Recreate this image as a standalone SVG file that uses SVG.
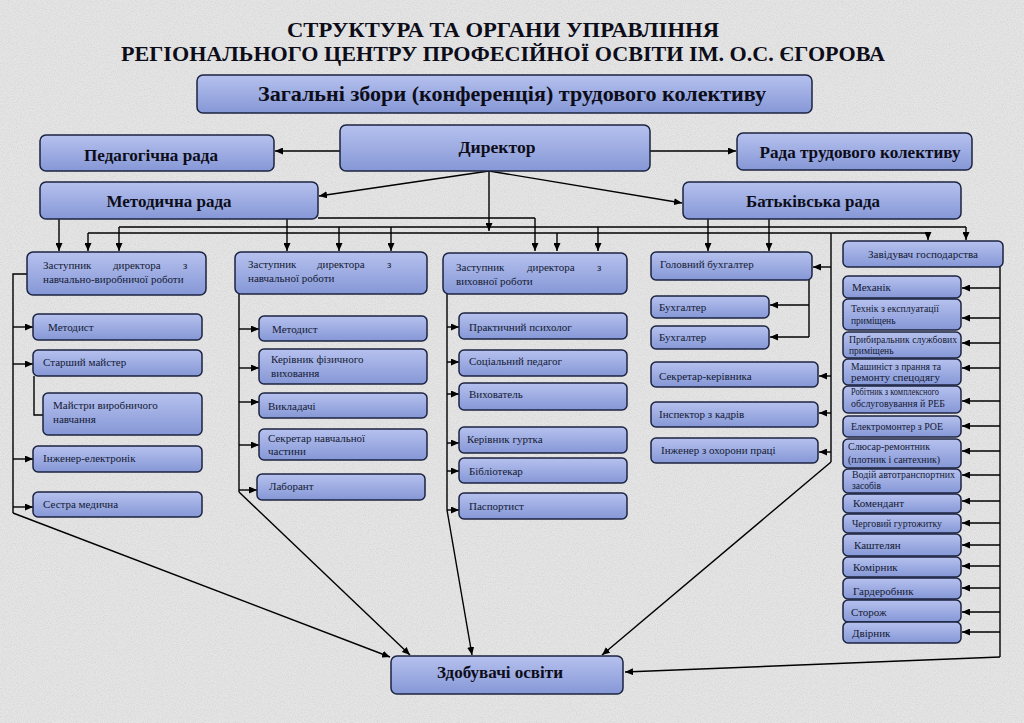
<svg xmlns="http://www.w3.org/2000/svg" width="1024" height="723" viewBox="0 0 1024 723">
<defs>
<linearGradient id="g" x1="0" y1="0" x2="0" y2="1">
<stop offset="0" stop-color="#b6c1ee"/>
<stop offset="1" stop-color="#8597d6"/>
</linearGradient>
<filter id="grain" x="0" y="0" width="100%" height="100%">
<feTurbulence type="fractalNoise" baseFrequency="0.85" numOctaves="2" seed="7" result="n"/>
<feColorMatrix in="n" type="matrix" values="0 0 0 0 0.45  0 0 0 0 0.45  0 0 0 0 0.45  1.2 0 0 0 -0.45"/>
</filter>
<marker id="ah" viewBox="0 0 8 7" refX="8" refY="3.5" markerWidth="8" markerHeight="7" markerUnits="userSpaceOnUse" orient="auto">
<path d="M0,0 L8,3.5 L0,7 z" fill="#000"/>
</marker>
<style>
.box{fill:url(#g);stroke:#1c2340;stroke-width:1.5}
.b{font-family:"Liberation Serif","Times New Roman",serif;font-weight:bold;fill:#0d0d1a}
.t{font-family:"Liberation Serif","Times New Roman",serif;font-size:11px;fill:#141a33}
.s{font-family:"Liberation Serif","Times New Roman",serif;font-size:9.5px;fill:#141a33}
.c{fill:none;stroke:#000;stroke-width:1.4}
.a{fill:none;stroke:#000;stroke-width:1.4;marker-end:url(#ah)}
</style>
</defs>
<rect width="1024" height="723" fill="#e5e5e5"/>
<rect width="1024" height="723" filter="url(#grain)" opacity="0.5"/>

<g id="title">
<text class="b" x="503" y="37" font-size="20" text-anchor="middle" textLength="432" lengthAdjust="spacingAndGlyphs">СТРУКТУРА ТА ОРГАНИ УПРАВЛІННЯ</text>
<text class="b" x="503" y="61" font-size="20" text-anchor="middle" textLength="764" lengthAdjust="spacingAndGlyphs">РЕГІОНАЛЬНОГО ЦЕНТРУ ПРОФЕСІЙНОЇ ОСВІТИ ІМ. О.С. ЄГОРОВА</text>
</g>

<g id="connectors">
<path class="a" d="M340,151 H275"/>
<path class="a" d="M650,151 H736"/>
<path class="a" d="M489,171 L319,196"/>
<path class="a" d="M489,171 L682,203"/>
<path class="a" d="M489,171 V231"/>
<path class="c" d="M318,218 H535"/>
<path class="a" d="M535,218 V251"/>
<path class="a" d="M59,219 V251"/>
<path class="a" d="M287,219 V251"/>
<path class="c" d="M119,227 H966"/>
<path class="c" d="M88,233 H928"/>
<path class="a" d="M119,227 V251"/>
<path class="a" d="M88,233 V251"/>
<path class="a" d="M339,227 V251"/>
<path class="a" d="M391,227 V251"/>
<path class="a" d="M557,233 V251"/>
<path class="a" d="M598,227 V251"/>
<path class="a" d="M708,219 V251"/>
<path class="a" d="M769,219 V251"/>
<path class="a" d="M928,233 V240"/>
<path class="a" d="M966,227 V240"/>
<path class="c" d="M27,274 H13 V513"/>
<path class="a" d="M13,327 H33"/>
<path class="a" d="M13,364 H33"/>
<path class="a" d="M13,459 H33"/>
<path class="a" d="M13,507 H33"/>
<path class="c" d="M34,376 V415 H43"/>
<path class="a" d="M13,513 L390,657"/>
<path class="c" d="M239,294 V492"/>
<path class="a" d="M239,329 H259"/>
<path class="a" d="M239,368 H259"/>
<path class="a" d="M239,402 H259"/>
<path class="a" d="M239,445 H259"/>
<path class="a" d="M239,490 H257"/>
<path class="a" d="M239,492 L410,655"/>
<path class="c" d="M447,294 V510"/>
<path class="a" d="M447,327 H459"/>
<path class="a" d="M447,362 H459"/>
<path class="a" d="M447,394 H459"/>
<path class="a" d="M447,443 H459"/>
<path class="a" d="M447,471 H459"/>
<path class="a" d="M447,510 H459"/>
<path class="a" d="M447,510 L472,655"/>
<path class="c" d="M831,233 V462"/>
<path class="a" d="M831,267 H813"/>
<path class="a" d="M831,376 H819"/>
<path class="a" d="M831,413 H819"/>
<path class="a" d="M831,452 H819"/>
<path class="c" d="M809,280 V337"/>
<path class="a" d="M809,305 H770"/>
<path class="a" d="M809,337 H770"/>
<path class="a" d="M831,462 L602,655"/>
<path class="c" d="M1000,267 V657"/>
<path class="a" d="M1000,288 H962"/>
<path class="a" d="M1000,318 H962"/>
<path class="a" d="M1000,343 H962"/>
<path class="a" d="M1000,368 H962"/>
<path class="a" d="M1000,401 H962"/>
<path class="a" d="M1000,426 H962"/>
<path class="a" d="M1000,451 H962"/>
<path class="a" d="M1000,475 H962"/>
<path class="a" d="M1000,501 H962"/>
<path class="a" d="M1000,523 H962"/>
<path class="a" d="M1000,545 H962"/>
<path class="a" d="M1000,566 H962"/>
<path class="a" d="M1000,588 H962"/>
<path class="a" d="M1000,612 H962"/>
<path class="a" d="M1000,632 H962"/>
<path class="a" d="M1000,657 L625,672"/>
</g>

<g id="n-zbory"><rect class="box" x="197" y="75" width="615" height="38" rx="6"/><text class="b" x="512" y="101" font-size="21" text-anchor="middle" textLength="508" lengthAdjust="spacingAndGlyphs">Загальні збори (конференція) трудового колективу</text></g>
<g id="n-dyrektor"><rect class="box" x="340" y="125" width="310" height="46" rx="6"/><text class="b" x="497" y="153" font-size="16" text-anchor="middle" textLength="77" lengthAdjust="spacingAndGlyphs">Директор</text></g>
<g id="n-ped"><rect class="box" x="40" y="135" width="234" height="36" rx="6"/><text class="b" x="151" y="161" font-size="16" text-anchor="middle" textLength="134" lengthAdjust="spacingAndGlyphs">Педагогічна рада</text></g>
<g id="n-rada"><rect class="box" x="737" y="133" width="235" height="37" rx="6"/><text class="b" x="860" y="158" font-size="16" text-anchor="middle" textLength="201" lengthAdjust="spacingAndGlyphs">Рада трудового колективу</text></g>
<g id="n-metod"><rect class="box" x="40" y="182" width="278" height="37" rx="6"/><text class="b" x="169" y="207" font-size="17" text-anchor="middle" textLength="125" lengthAdjust="spacingAndGlyphs">Методична рада</text></g>
<g id="n-batk"><rect class="box" x="683" y="182" width="278" height="37" rx="6"/><text class="b" x="813" y="207" font-size="17" text-anchor="middle" textLength="134" lengthAdjust="spacingAndGlyphs">Батьківська рада</text></g>
<g id="n-zdob"><rect class="box" x="391" y="656" width="232" height="38" rx="6"/><text class="b" x="500" y="678" font-size="17" text-anchor="middle" textLength="126" lengthAdjust="spacingAndGlyphs">Здобувачі освіти</text></g>

<g id="n-z1"><rect class="box" x="27" y="252" width="179" height="43" rx="6"/><text class="t" x="43" y="269" font-size="11.5">Заступник</text><text class="t" x="113" y="269" font-size="11.5">директора</text><text class="t" x="183" y="269" font-size="11.5">з</text><text class="t" x="43" y="283" font-size="11.5">навчально-виробничої  роботи</text></g>
<g id="n-c1-1"><rect class="box" x="33" y="314" width="169" height="26" rx="5"/><text class="t" x="48" y="331">Методист</text></g>
<g id="n-c1-2"><rect class="box" x="33" y="350" width="169" height="26" rx="5"/><text class="t" x="43" y="366">Старший майстер</text></g>
<g id="n-c1-3"><rect class="box" x="43" y="393" width="159" height="42" rx="5"/><text class="t" x="53" y="409">Майстри виробничого</text><text class="t" x="53" y="423">навчання</text></g>
<g id="n-c1-4"><rect class="box" x="33" y="446" width="169" height="26" rx="5"/><text class="t" x="43" y="462">Інженер-електронік</text></g>
<g id="n-c1-5"><rect class="box" x="33" y="492" width="169" height="25" rx="5"/><text class="t" x="43" y="508">Сестра медична</text></g>

<g id="n-z2"><rect class="box" x="235" y="252" width="192" height="42" rx="6"/><text class="t" x="248" y="268" font-size="11.5">Заступник</text><text class="t" x="317" y="268" font-size="11.5">директора</text><text class="t" x="387" y="268" font-size="11.5">з</text><text class="t" x="248" y="282" font-size="11.5">навчальної роботи</text></g>
<g id="n-c2-1"><rect class="box" x="259" y="316" width="168" height="25" rx="5"/><text class="t" x="272" y="333">Методист</text></g>
<g id="n-c2-2"><rect class="box" x="259" y="349" width="168" height="35" rx="5"/><text class="t" x="271" y="363">Керівник фізичного</text><text class="t" x="271" y="377">виховання</text></g>
<g id="n-c2-3"><rect class="box" x="259" y="393" width="168" height="25" rx="5"/><text class="t" x="268" y="410">Викладачі</text></g>
<g id="n-c2-4"><rect class="box" x="259" y="429" width="168" height="31" rx="5"/><text class="t" x="268" y="442">Секретар навчальної</text><text class="t" x="268" y="455">частини</text></g>
<g id="n-c2-5"><rect class="box" x="257" y="474" width="168" height="26" rx="5"/><text class="t" x="269" y="490">Лаборант</text></g>

<g id="n-z3"><rect class="box" x="443" y="253" width="184" height="41" rx="6"/><text class="t" x="456" y="271" font-size="11.5">Заступник</text><text class="t" x="527" y="271" font-size="11.5">директора</text><text class="t" x="597" y="271" font-size="11.5">з</text><text class="t" x="456" y="285" font-size="11.5">виховної роботи</text></g>
<g id="n-c3-1"><rect class="box" x="459" y="313" width="168" height="26" rx="5"/><text class="t" x="469" y="331">Практичний психолог</text></g>
<g id="n-c3-2"><rect class="box" x="459" y="350" width="168" height="26" rx="5"/><text class="t" x="469" y="365">Соціальний педагог</text></g>
<g id="n-c3-3"><rect class="box" x="459" y="383" width="168" height="27" rx="5"/><text class="t" x="469" y="398">Вихователь</text></g>
<g id="n-c3-4"><rect class="box" x="459" y="427" width="168" height="26" rx="5"/><text class="t" x="467" y="443">Керівник гуртка</text></g>
<g id="n-c3-5"><rect class="box" x="459" y="458" width="168" height="25" rx="5"/><text class="t" x="469" y="475">Бібліотекар</text></g>
<g id="n-c3-6"><rect class="box" x="459" y="493" width="168" height="26" rx="5"/><text class="t" x="469" y="510">Паспортист</text></g>

<g id="n-gb"><rect class="box" x="651" y="252" width="161" height="28" rx="5"/><text class="t" x="660" y="268" font-size="12">Головний бухгалтер</text></g>
<g id="n-b1"><rect class="box" x="651" y="296" width="118" height="22" rx="5"/><text class="t" x="659" y="311" font-size="10.5">Бухгалтер</text></g>
<g id="n-b2"><rect class="box" x="651" y="326" width="118" height="23" rx="5"/><text class="t" x="659" y="341" font-size="10.5">Бухгалтер</text></g>
<g id="n-sk"><rect class="box" x="651" y="362" width="167" height="25" rx="5"/><text class="t" x="659" y="380" font-size="10.5">Секретар-керівника</text></g>
<g id="n-ik"><rect class="box" x="651" y="402" width="167" height="25" rx="5"/><text class="t" x="659" y="418" font-size="10.5">Інспектор з кадрів</text></g>
<g id="n-io"><rect class="box" x="651" y="438" width="167" height="25" rx="5"/><text class="t" x="661" y="454" font-size="10.5">Інженер з охорони праці</text></g>

<g id="n-zg"><rect class="box" x="843" y="241" width="160" height="26" rx="5"/><text class="t" x="868" y="258" font-size="10.5" textLength="110" lengthAdjust="spacingAndGlyphs">Завідувач господарства</text></g>
<g id="n-r1"><rect class="box" x="843" y="276" width="118" height="22" rx="5"/><text class="t" x="852" y="291" font-size="12.5">Механік</text></g>
<g id="n-r2"><rect class="box" x="843" y="299" width="118" height="31" rx="5"/><text class="s" x="851" y="312" textLength="88" lengthAdjust="spacingAndGlyphs">Технік з експлуатації</text><text class="s" x="851" y="324">приміщень</text></g>
<g id="n-r3"><rect class="box" x="843" y="332" width="118" height="26" rx="5"/><text class="s" x="849" y="343" textLength="108" lengthAdjust="spacingAndGlyphs">Прибиральник службових</text><text class="s" x="849" y="354">приміщень</text></g>
<g id="n-r4"><rect class="box" x="843" y="359" width="118" height="26" rx="5"/><text class="s" x="851" y="370" textLength="90" lengthAdjust="spacingAndGlyphs">Машиніст з прання та</text><text class="s" x="851" y="381" textLength="89" lengthAdjust="spacingAndGlyphs">ремонту  спецодягу</text></g>
<g id="n-r5"><rect class="box" x="843" y="386" width="118" height="27" rx="5"/><text class="s" x="851" y="395" font-size="7.5" textLength="88" lengthAdjust="spacingAndGlyphs">Робітник з комплексного</text><text class="s" x="851" y="407" textLength="94" lengthAdjust="spacingAndGlyphs">обслуговування й РЕБ</text></g>
<g id="n-r6"><rect class="box" x="843" y="416" width="118" height="21" rx="5"/><text class="s" x="851" y="430" textLength="92" lengthAdjust="spacingAndGlyphs">Електромонтер з РОЕ</text></g>
<g id="n-r7"><rect class="box" x="843" y="439" width="118" height="29" rx="5"/><text class="s" x="848" y="450" textLength="82" lengthAdjust="spacingAndGlyphs">Слюсар-ремонтник</text><text class="s" x="848" y="463" textLength="92" lengthAdjust="spacingAndGlyphs">(плотник і сантехник)</text></g>
<g id="n-r8"><rect class="box" x="843" y="469" width="118" height="24" rx="5"/><text class="s" x="852" y="478" textLength="103" lengthAdjust="spacingAndGlyphs">Водій автотранспортних</text><text class="s" x="852" y="489">засобів</text></g>
<g id="n-r9"><rect class="box" x="843" y="494" width="118" height="19" rx="5"/><text class="t" x="853" y="507" font-size="11.5">Комендант</text></g>
<g id="n-r10"><rect class="box" x="843" y="514" width="118" height="19" rx="5"/><text class="s" x="852" y="527" textLength="90" lengthAdjust="spacingAndGlyphs">Черговий гуртожитку</text></g>
<g id="n-r11"><rect class="box" x="843" y="534" width="118" height="22" rx="5"/><text class="t" x="854" y="549" font-size="11.5">Каштелян</text></g>
<g id="n-r12"><rect class="box" x="843" y="557" width="118" height="20" rx="5"/><text class="t" x="853" y="571" font-size="11.5">Комірник</text></g>
<g id="n-r13"><rect class="box" x="843" y="578" width="118" height="21" rx="5"/><text class="t" x="853" y="595" font-size="11.5">Гардеробник</text></g>
<g id="n-r14"><rect class="box" x="843" y="600" width="118" height="22" rx="5"/><text class="t" x="851" y="616" font-size="11.5">Сторож</text></g>
<g id="n-r15"><rect class="box" x="843" y="622" width="118" height="21" rx="5"/><text class="t" x="852" y="637" font-size="11.5">Двірник</text></g>
</svg>
